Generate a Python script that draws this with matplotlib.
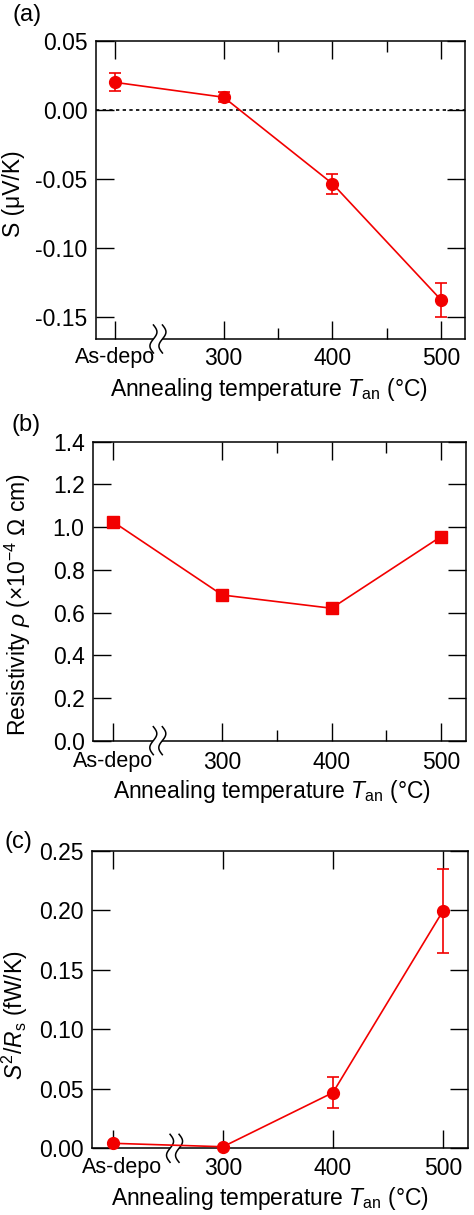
import numpy as np
import matplotlib
matplotlib.use("Agg")
import matplotlib.pyplot as plt
import matplotlib.transforms as mtransforms

plt.rcParams['font.family'] = ['Liberation Sans', 'DejaVu Sans']
plt.rcParams['mathtext.fontset'] = 'custom'
plt.rcParams['mathtext.rm'] = 'Liberation Sans'
plt.rcParams['mathtext.it'] = 'Liberation Sans:italic'
plt.rcParams['axes.unicode_minus'] = False

# ---------------------------------------------------------------------------
# Data
# ---------------------------------------------------------------------------
temp_pos = [200, 300, 400, 500]          # As-depo placed at 200 on the axis
temp_labels = ["As-depo", "300", "400", "500"]

seebeck = [0.020, 0.0092, -0.0534, -0.1377]        # S (uV/K)
seebeck_err = [0.0065, 0.0037, 0.0073, 0.0121]

resistivity = [1.025, 0.682, 0.620, 0.955]         # rho (x1e-4 Ohm cm)

power = [0.0042, 0.0013, 0.0468, 0.1995]           # S^2/Rs (fW/K)
power_err = [0.0, 0.0, 0.0133, 0.035]

RED = "#f20000"
FS = 16.5
XLABEL = "Annealing temperature $T_\\mathrm{an}$ (°C)"

fig = plt.figure(figsize=(4.74, 12.15), dpi=100)
ax_a = fig.add_axes([0.2025, 0.721, 0.7785, 0.2453])
ax_b = fig.add_axes([0.196, 0.3904, 0.787, 0.2461])
ax_c = fig.add_axes([0.194, 0.0549, 0.793, 0.2447])


def style_axes(ax, minor, xpad=6):
    ax.set_xticks(temp_pos)
    ax.set_xticklabels(temp_labels)
    if minor:
        ax.set_xticks([350, 450], minor=True)
    ax.tick_params(which='both', direction='in', top=True, right=True,
                   width=1.0, labelsize=FS)
    ax.tick_params(which='major', length=13)
    ax.tick_params(which='minor', length=8)
    ax.tick_params(axis='x', pad=xpad)
    ax.tick_params(axis='y', pad=6)
    ax.get_xticklabels()[0].set_fontsize(15.5)
    for sp in ax.spines.values():
        sp.set_linewidth(1.1)


def draw_break(ax, xb):
    # pair of wavy lines across the bottom axis, white gap between them
    base = mtransforms.blended_transform_factory(ax.transData, ax.transAxes)
    tr = (mtransforms.Affine2D().scale(fig.dpi / 100.0)
          + mtransforms.ScaledTranslation(xb, 0, base))
    t = np.linspace(-1, 1, 60)
    yy = -t * 14
    xx = -3.5 * np.sin(np.pi * t)
    x1, x2 = xx - 4.5, xx + 4.5
    poly = np.column_stack([np.concatenate([x1, x2[::-1]]),
                            np.concatenate([yy, yy[::-1]])])
    ax.fill(poly[:, 0], poly[:, 1], color="white", transform=tr,
            clip_on=False, zorder=3, lw=0)
    ax.plot(x1, yy, color="black", lw=1.1, transform=tr, clip_on=False, zorder=3.2)
    ax.plot(x2, yy, color="black", lw=1.1, transform=tr, clip_on=False, zorder=3.2)


# (a) Seebeck coefficient
ax_a.axhline(0, color="black", lw=1.2, ls=(0, (2, 2)), zorder=1)
ax_a.errorbar(temp_pos, seebeck, yerr=seebeck_err, fmt='o-', color=RED,
              ms=8.5, lw=1.2, elinewidth=1.2, capsize=4, capthick=1.2,
              zorder=5, clip_on=False)
ax_a.set_xlim(182.5, 522)
ax_a.set_ylim(-0.166, 0.05)
ax_a.set_yticks([-0.15, -0.10, -0.05, 0.00, 0.05])
ax_a.set_yticklabels(["-0.15", "-0.10", "-0.05", "0.00", "0.05"])
style_axes(ax_a, True)
ax_a.set_ylabel("S (μV/K)", fontsize=FS)
ax_a.yaxis.set_label_coords(-0.192, 0.487)
ax_a.set_xlabel(XLABEL, fontsize=FS, labelpad=4)
ax_a.xaxis.label.set_x(0.47)
draw_break(ax_a, 239.5)

# (b) Resistivity
ax_b.plot(temp_pos, resistivity, 's-', color=RED, ms=9, lw=1.2,
          zorder=5, clip_on=False)
ax_b.set_xlim(181.6, 523)
ax_b.set_ylim(0, 1.4)
ax_b.set_yticks(np.arange(0, 1.41, 0.2))
ax_b.set_yticklabels([f"{v:.1f}" for v in np.arange(0, 1.41, 0.2)])
style_axes(ax_b, True, xpad=7.5)
ax_b.set_ylabel("Resistivity $\\it{\\rho}$ (×10$^{-4}$ Ω cm)", fontsize=FS)
ax_b.yaxis.set_label_coords(-0.161, 0.454)
ax_b.set_xlabel(XLABEL, fontsize=FS, labelpad=3)
ax_b.xaxis.label.set_x(0.48)
draw_break(ax_b, 241)

# (c) Power factor
ax_c.errorbar(temp_pos, power, yerr=power_err, fmt='o-', color=RED,
              ms=8.5, lw=1.2, elinewidth=1.2, capsize=4, capthick=1.2,
              zorder=5, clip_on=False)
ax_c.set_xlim(180.9, 522.7)
ax_c.set_ylim(0, 0.25)
ax_c.set_yticks([0, 0.05, 0.10, 0.15, 0.20, 0.25])
ax_c.set_yticklabels(["0.00", "0.05", "0.10", "0.15", "0.20", "0.25"])
style_axes(ax_c, False)
ax_c.set_ylabel("$S^2/R_\\mathrm{s}$ (fW/K)", fontsize=FS)
ax_c.yaxis.set_label_coords(-0.165, 0.448)
ax_c.set_xlabel(XLABEL, fontsize=FS, labelpad=4)
ax_c.xaxis.label.set_x(0.473)
draw_break(ax_c, 256)
lab = ax_c.get_xticklabels()[0]
lab.set_transform(lab.get_transform()
                  + mtransforms.ScaledTranslation(9 / 100.0, 0, fig.dpi_scale_trans))

# panel letters
fig.text(0.057, 1 - 15 / 1215, "(a)", fontsize=17, ha='center', va='center')
fig.text(0.055, 1 - 425 / 1215, "(b)", fontsize=17, ha='center', va='center')
fig.text(0.038, 1 - 842 / 1215, "(c)", fontsize=17, ha='center', va='center')

fig.savefig("out.png", dpi=100)
